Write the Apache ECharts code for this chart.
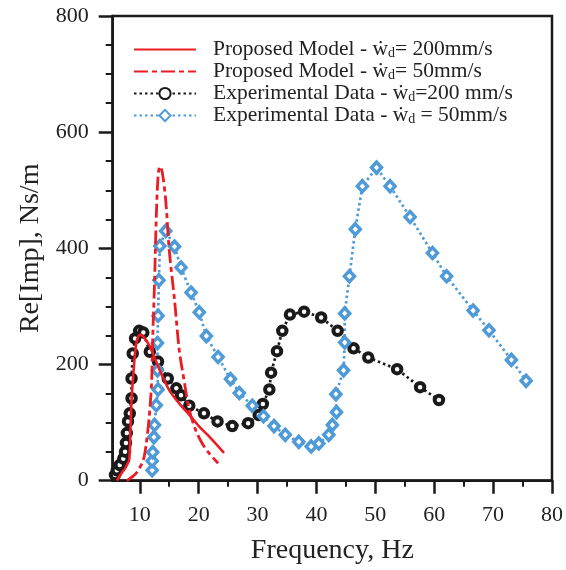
<!DOCTYPE html>
<html><head><meta charset="utf-8">
<script src="https://cdn.jsdelivr.net/npm/echarts@6/dist/echarts.min.js"></script>
<style>html,body{margin:0;padding:0;background:#fff}#c{width:566px;height:570px}</style>
</head><body><div id="c"></div>
<script>
// ---- data ----
const modelFreq200 = [6.1, 6.9, 7.5, 7.8, 8.2, 8.4, 8.6, 9.0, 9.4, 10.0, 10.6, 11.7, 13.4, 15.0, 16.7, 18.7, 20.1, 21.8, 24.3];
const modelRe200   = [0, 13, 21, 27, 36, 82, 139, 196, 236, 251, 248, 231, 190, 156, 133, 110, 93, 76, 48];
const modelFreq50  = [7.8, 9.4, 10.6, 11.1, 11.6, 12.0, 12.2, 12.5, 12.8, 13.1, 13.4, 13.8, 14.4, 15.0, 15.9, 16.7, 17.6, 18.4, 19.5, 20.6, 21.8, 23.3];
const modelRe50    = [0, 13, 36, 64, 110, 168, 248, 340, 454, 523, 541, 532, 483, 397, 311, 225, 168, 122, 87, 64, 47, 30];
const expFreq200 = [5.8, 6.1, 6.6, 7.2, 7.5, 7.65, 7.8, 8.0, 8.3, 8.6, 8.6, 8.8, 9.2, 9.9, 10.6, 11.7, 13.1, 14.75, 16.2, 17.0, 18.4, 20.9, 23.2, 25.7, 28.4, 30.2, 30.9, 32.0, 32.3, 33.3, 34.2, 35.5, 37.9, 40.8, 43.6, 46.3, 48.8, 53.7, 57.6, 60.8];
const expRe200   = [10, 18, 27, 38, 50, 65, 82, 102, 116, 142, 176, 219, 245, 258, 255, 222, 205, 176, 159, 147, 129, 116, 102, 94, 99, 113, 132, 157, 186, 223, 258, 286, 291, 281, 258, 228, 212, 192, 161, 139];
const expFreq50 = [12.1, 12.1, 12.2, 12.4, 12.5, 12.8, 13.1, 13.0, 13.0, 13.1, 13.25, 13.4, 14.4, 15.9, 17.0, 18.7, 20.1, 21.3, 23.3, 25.4, 26.9, 29.1, 31.0, 32.8, 34.7, 37.0, 39.1, 40.4, 42.1, 42.7, 43.4, 43.3, 44.6, 44.8, 44.8, 45.6, 46.6, 47.8, 50.2, 52.5, 55.9, 59.7, 62.1, 66.6, 69.3, 73.1, 75.6];
const expRe50   = [18, 34, 49, 75, 96, 130, 157, 190, 237, 284, 345, 404, 430, 403, 367, 324, 290, 249, 213, 175, 151, 129, 111, 94, 79, 67, 59, 64, 79, 96, 118, 149, 190, 238, 288, 352, 433, 507, 539, 507, 454, 392, 352, 293, 259, 208, 172];
const xTickLabels = [10, 20, 30, 40, 50, 60, 70, 80];
const xMinorTicks = [15, 25, 35, 45, 55, 65, 75];
const seriesNames = ['Proposed Model - ẇd= 200mm/s', 'Proposed Model - ẇd= 50mm/s', 'Experimental Data - ẇd=200 mm/s', 'Experimental Data - ẇd = 50mm/s'];
const legendParts = [
  ['Proposed Model - ẇ', '= 200mm/s'],
  ['Proposed Model - ẇ', '= 50mm/s'],
  ['Experimental Data - ẇ', '=200 mm/s'],
  ['Experimental Data - ẇ', ' = 50mm/s']
];

const zip = (a, b) => a.map((v, i) => [v, b[i]]);
const FF = '"Liberation Serif", "DejaVu Serif", serif';
const INK = '#1a1a1a';
const TXT = '#222';
const RED = '#ec1c24';
const BLUE = '#4e9bd8';

const chart = echarts.init(document.getElementById('c'), null, {renderer: 'canvas'});
const axisLineStyle = {color: INK, width: 2.5};
const hiddenMark = {color: 'rgba(0,0,0,0)', borderColor: 'rgba(0,0,0,0)', borderWidth: 0};
chart.setOption({
  animation: false,
  grid: {left: 112.7, right: 9.3, top: 16, bottom: 89.3, show: true, borderColor: INK, borderWidth: 2.5, backgroundColor: 'transparent'},
  legend: {
    left: 128, top: 33.5, orient: 'vertical', itemWidth: 62, itemHeight: 14, itemGap: 0,
    selectedMode: false,
    data: [
      {name: seriesNames[0], itemStyle: hiddenMark},
      {name: seriesNames[1], itemStyle: hiddenMark},
      {name: seriesNames[2]},
      {name: seriesNames[3]}
    ],
    formatter: name => {
      const p = legendParts[seriesNames.indexOf(name)];
      return '{t|' + p[0] + '}{s|d}{t|' + p[1] + '}';
    },
    textStyle: {
      fontFamily: FF, fontSize: 21.5, color: TXT, lineHeight: 22, padding: [0, 0, 0, 12],
      rich: {
        t: {fontFamily: FF, fontSize: 21.5, color: TXT, lineHeight: 22},
        s: {fontFamily: FF, fontSize: 14, color: TXT, lineHeight: 14, verticalAlign: 'bottom'}
      }
    }
  },
  xAxis: [{
    type: 'value', min: 5.4, max: 80, position: 'bottom',
    axisLine: {show: true, lineStyle: axisLineStyle},
    axisTick: {show: true, length: 13, lineStyle: {color: INK, width: 2.5}, customValues: xTickLabels},
    axisLabel: {customValues: xTickLabels, margin: 24, fontSize: 22, fontFamily: FF, color: TXT},
    splitLine: {show: false},
    name: 'Frequency, Hz', nameLocation: 'middle', nameGap: 56,
    nameTextStyle: {fontSize: 28, fontFamily: FF, color: TXT}
  }, {
    type: 'value', min: 5.4, max: 80, position: 'bottom',
    axisLine: {show: false},
    axisTick: {show: true, length: 6, lineStyle: {color: INK, width: 2}, customValues: xMinorTicks},
    axisLabel: {show: false},
    splitLine: {show: false}
  }],
  yAxis: {
    type: 'value', min: 0, max: 800, interval: 200,
    axisLine: {show: true, lineStyle: axisLineStyle},
    axisTick: {show: true, length: 14, lineStyle: {color: INK, width: 2.5}},
    minorTick: {show: true, splitNumber: 4, length: 7, lineStyle: {color: INK, width: 2}},
    axisLabel: {margin: 24, fontSize: 22, fontFamily: FF, color: TXT},
    splitLine: {show: false},
    name: 'Re[Imp], Ns/m', nameLocation: 'middle', nameGap: 67, nameRotate: 90,
    nameTextStyle: {fontSize: 28, fontFamily: FF, color: TXT}
  },
  series: [
    {
      name: seriesNames[2], type: 'line', data: zip(expFreq200, expRe200), z: 2,
      symbol: 'circle', symbolSize: 8.5,
      itemStyle: {color: '#fff', borderColor: INK, borderWidth: 4},
      lineStyle: {color: INK, width: 2.7, type: [2.5, 3]}
    },
    {
      name: seriesNames[3], type: 'line', data: zip(expFreq50, expRe50), z: 2,
      symbol: 'diamond', symbolSize: [10, 11],
      itemStyle: {color: '#fff', borderColor: BLUE, borderWidth: 3.5},
      lineStyle: {color: BLUE, width: 2.7, type: [2.5, 3]}
    },
    {
      name: seriesNames[0], type: 'line', data: zip(modelFreq200, modelRe200), z: 3,
      symbol: 'none', smooth: 0.3,
      itemStyle: {color: RED},
      lineStyle: {color: RED, width: 2.6, type: 'solid'}
    },
    {
      name: seriesNames[1], type: 'line', data: zip(modelFreq50, modelRe50), z: 3,
      symbol: 'none', smooth: 0.3,
      itemStyle: {color: RED},
      lineStyle: {color: RED, width: 2.8, type: [14, 4, 5, 4]}
    }
  ]
});
</script></body></html>
